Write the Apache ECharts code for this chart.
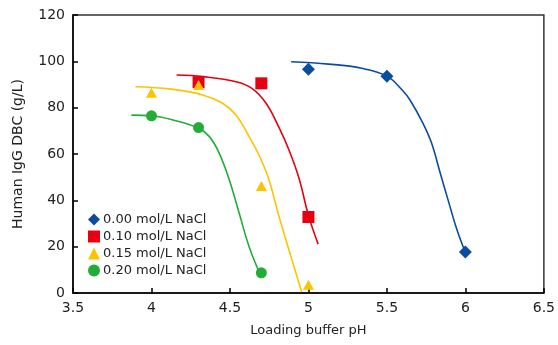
<!DOCTYPE html>
<html><head><meta charset="utf-8">
<script src="https://cdn.jsdelivr.net/npm/echarts@6/dist/echarts.min.js"></script>
<style>html,body{margin:0;padding:0;background:#fff}#c{width:558px;height:345px}</style>
</head><body><div id="c"></div>
<script>
var seriesNames = ['0.00 mol/L NaCl', '0.10 mol/L NaCl', '0.15 mol/L NaCl', '0.20 mol/L NaCl'];
var xTicks = [3.5, 4, 4.5, 5, 5.5, 6, 6.5];
var yTicks = [0, 20, 40, 60, 80, 100, 120];

// measured points
var pH000 = [5.0, 5.5, 6.0];
var dbc000 = [96.6, 93.6, 17.7];
var pH010 = [4.3, 4.7, 5.0];
var dbc010 = [91.0, 90.5, 32.8];
var pH015 = [4.0, 4.3, 4.7, 5.0];
var dbc015 = [86.4, 89.8, 46.2, 3.6];
var pH020 = [4.0, 4.3, 4.7];
var dbc020 = [76.5, 71.4, 8.7];

// fitted curves
var fitX000 = [4.89, 5.13, 5.34, 5.5, 5.6, 5.65, 5.73, 5.785, 5.84, 5.89, 5.94, 5.99];
var fitY000 = [99.8, 98.8, 97.0, 93.6, 87.4, 83.0, 73.2, 64.6, 51.7, 40.1, 28.6, 19.2];
var fitX010 = [4.16, 4.33, 4.54, 4.64, 4.73, 4.81, 4.876, 4.94, 5.0, 5.062];
var fitY010 = [94.1, 93.4, 91.2, 88.3, 81.9, 71.8, 61.7, 49.5, 33.5, 21.1];
var fitX015 = [3.898, 4.125, 4.326, 4.453, 4.538, 4.622, 4.69, 4.749, 4.813, 4.876, 4.957];
var fitY015 = [89.0, 88.0, 85.5, 81.9, 76.8, 67.5, 58.8, 48.8, 32.9, 18.6, 0.4];
var fitX020 = [3.872, 4.0, 4.136, 4.295, 4.369, 4.432, 4.496, 4.559, 4.622, 4.69];
var fitY020 = [76.8, 76.5, 74.7, 71.3, 67.5, 60.3, 48.8, 34.4, 20.0, 8.5];

var colors = ['#0a4da0', '#e60012', '#fcc400', '#22ac38'];
var symbols = ['diamond', 'rect', 'triangle', 'circle'];
var sizes = [[13, 13], [12, 12], [11, 10], [11, 11]];

function zip(a, b) { return a.map(function (v, i) { return [v, b[i]]; }); }
var pts = [zip(pH000, dbc000), zip(pH010, dbc010), zip(pH015, dbc015), zip(pH020, dbc020)];
var fits = [zip(fitX000, fitY000), zip(fitX010, fitY010), zip(fitX015, fitY015), zip(fitX020, fitY020)];

var series = [];
for (var i = 0; i < 4; i++) {
  series.push({
    name: 'fit' + i, type: 'line', data: fits[i], smooth: 0.4, showSymbol: false,
    lineStyle: { color: colors[i], width: 1.6 }, silent: true, z: 2
  });
}
for (var j = 0; j < 4; j++) {
  series.push({
    name: seriesNames[j], type: 'scatter', data: pts[j], symbol: symbols[j], symbolSize: sizes[j],
    itemStyle: { color: colors[j], opacity: 1 }, z: 3
  });
}

var FONT = 'DejaVu Sans, Verdana, sans-serif';
var chart = echarts.init(document.getElementById('c'), null, { renderer: 'canvas' });
chart.setOption({
  animation: false,
  backgroundColor: '#fff',
  textStyle: { fontFamily: FONT },
  grid: { left: 73, top: 15, right: 12, bottom: 52, show: true, borderColor: '#333', borderWidth: 1.5, backgroundColor: 'transparent' },
  legend: {
    orient: 'vertical', left: 83, top: 206, itemGap: 0, itemWidth: 12, itemHeight: 12,
    textStyle: { fontSize: 13, color: '#222', fontFamily: FONT, lineHeight: 17, padding: [0, 0, 0, -2] },
    data: seriesNames.map(function (n, k) { return { name: n, icon: symbols[k] }; }),
    selectedMode: false
  },
  xAxis: {
    type: 'value', min: 3.5, max: 6.5, interval: 0.5,
    name: 'Loading buffer pH', nameLocation: 'middle', nameGap: 31,
    nameTextStyle: { fontSize: 13, color: '#222', fontFamily: FONT },
    axisLine: { show: true, lineStyle: { color: '#000', width: 1.5 } },
    axisTick: { show: true, inside: true, length: 5, lineStyle: { color: '#000', width: 1.5 } },
    axisLabel: { fontSize: 14, color: '#222', margin: 8, fontFamily: FONT, formatter: function (v) { return String(v); } },
    splitLine: { show: false }
  },
  yAxis: {
    type: 'value', min: 0, max: 120, interval: 20,
    name: 'Human IgG DBC (g/L)', nameLocation: 'middle', nameGap: 48,
    nameTextStyle: { fontSize: 14, color: '#222', fontFamily: FONT },
    axisLine: { show: true, lineStyle: { color: '#000', width: 1.5 } },
    axisTick: { show: true, inside: true, length: 5, lineStyle: { color: '#000', width: 1.5 } },
    axisLabel: { fontSize: 14, color: '#222', margin: 8, fontFamily: FONT },
    splitLine: { show: false }
  },
  series: series
});
</script>
</body></html>
